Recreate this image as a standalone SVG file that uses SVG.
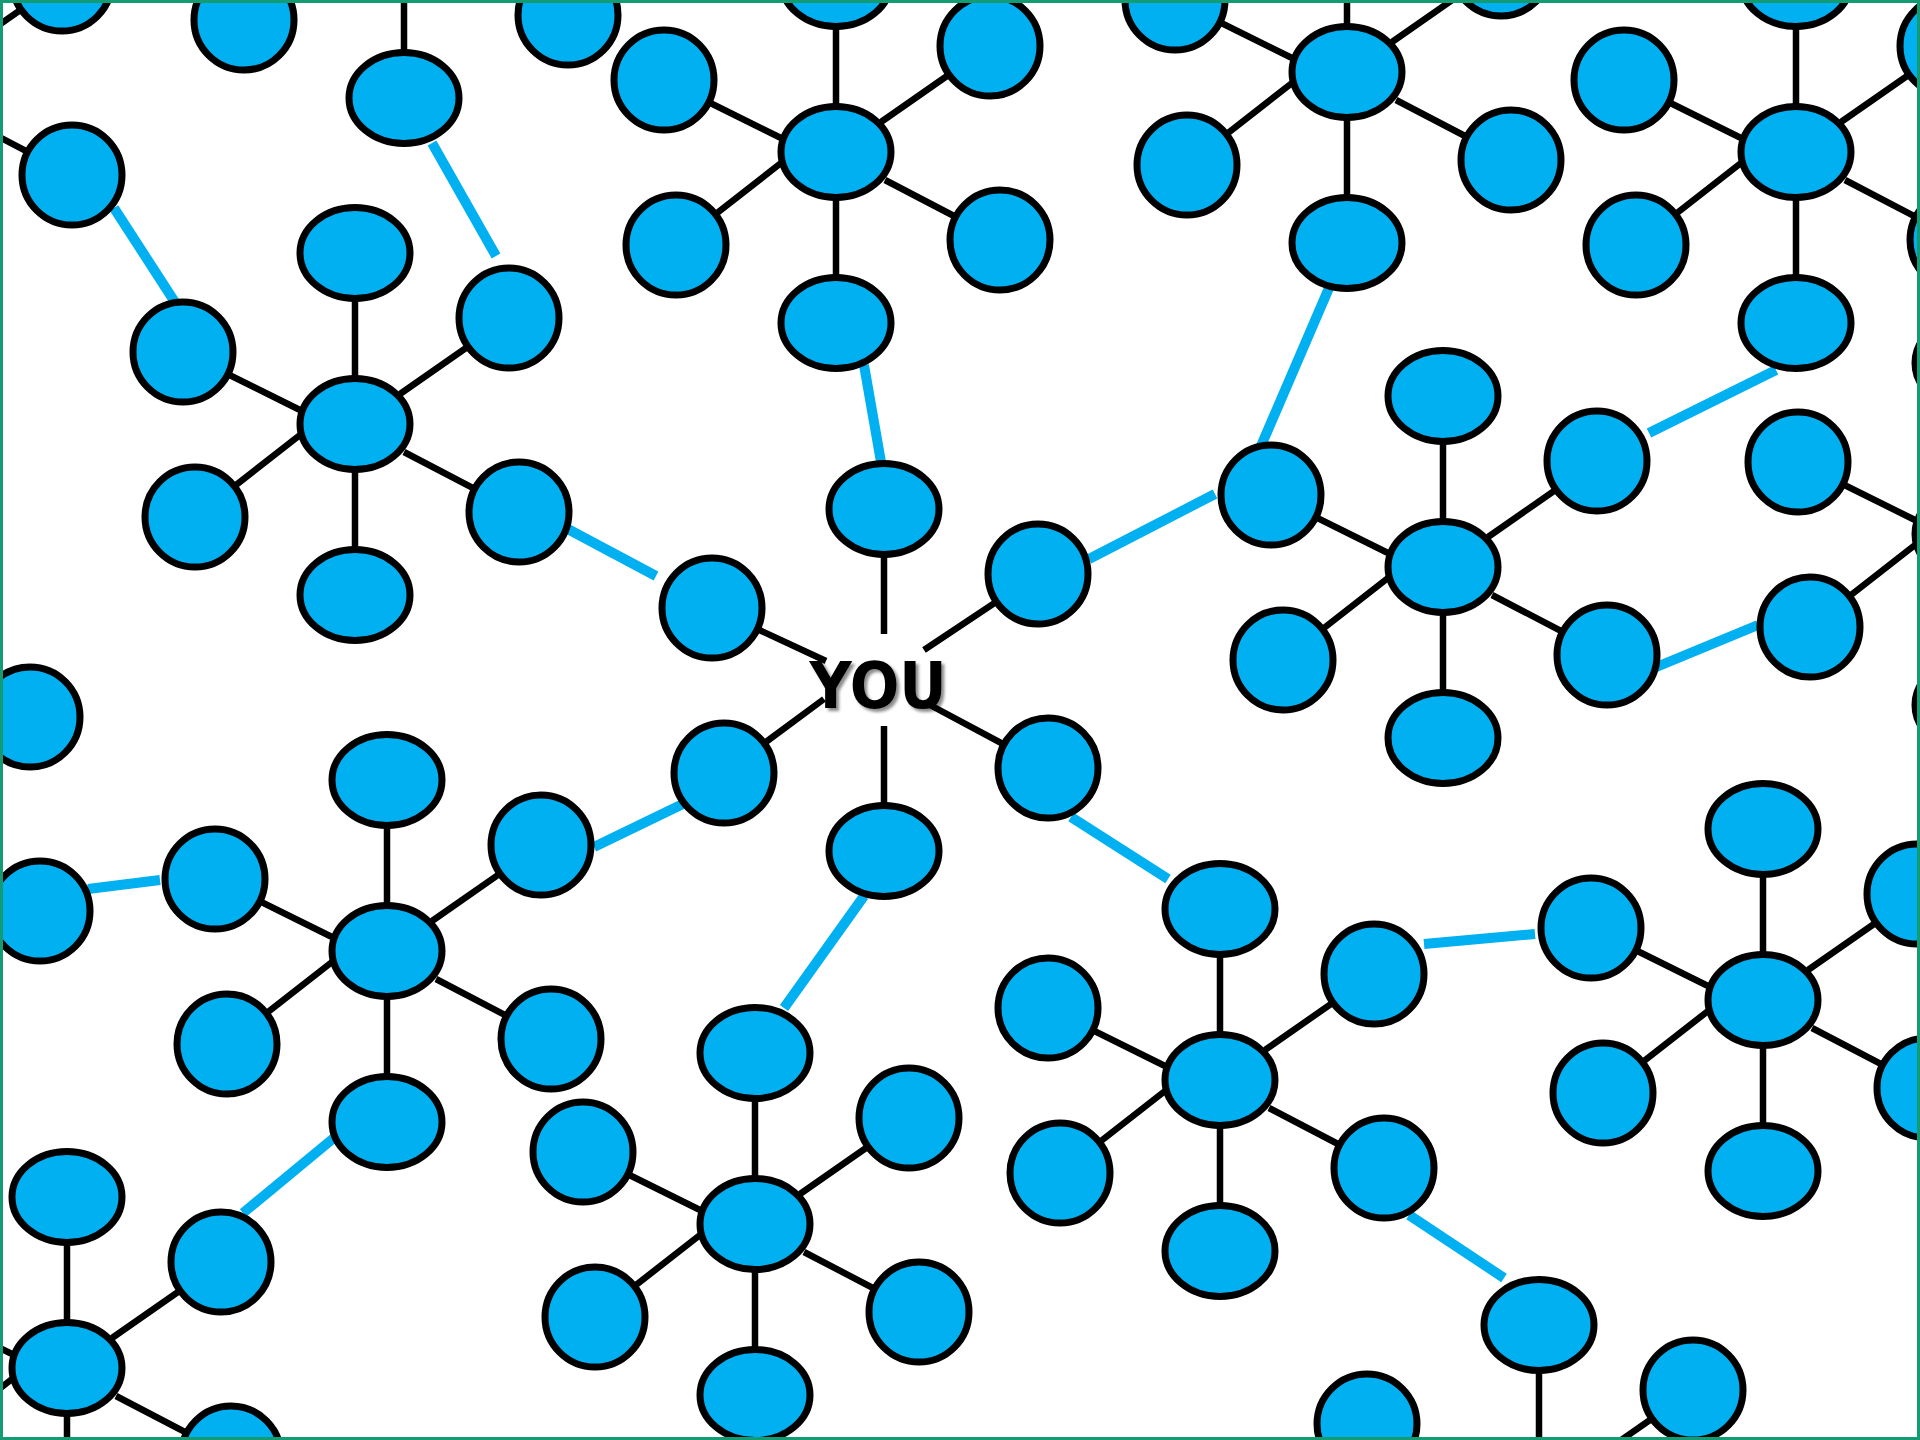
<svg xmlns="http://www.w3.org/2000/svg" xmlns:xlink="http://www.w3.org/1999/xlink" width="1920" height="1440" viewBox="0 0 1920 1440">
<style>
.n{fill:#00B0F0;stroke:#000;stroke-width:7}
.l{fill:none;stroke:#000;stroke-width:6.5}
.b{fill:none;stroke:#00B0F0;stroke-width:10}
.you{font-family:"DejaVu Sans","Liberation Sans",sans-serif;font-weight:bold;font-size:64px;fill:#000;text-anchor:middle}
</style>
<defs>
<ellipse id="e" class="n" rx="55" ry="45.5"/>
<circle id="c" class="n" r="50"/>
<filter id="sh" x="-20%" y="-30%" width="140%" height="160%">
<feDropShadow dx="3" dy="3" stdDeviation="1.5" flood-color="#000" flood-opacity="0.45"/>
</filter>
</defs>
<rect width="1920" height="1440" fill="#fff"/>
<g id="connectors">
<path class="l" d="M-47 57L62 -19M-43 115L72 175"/>
<path class="l" d="M404 -73L404 98M349 -62L244 20M453 -45L568 15"/>
<path class="l" d="M355 424L355 253M355 424L355 595M300 410L183 352M400 394L509 318M300 435L195 517M404 452L519 512"/>
<path class="l" d="M836 152L836 -19M836 152L836 323M781 138L664 80M881 122L990 46M781 163L676 245M885 180L1000 240"/>
<path class="l" d="M1347 72L1347 -99M1347 72L1347 243M1292 58L1175 0M1392 42L1501 -34M1292 83L1187 165M1396 100L1511 160"/>
<path class="l" d="M1796 152L1796 -19M1796 152L1796 323M1741 138L1624 80M1841 122L1950 46M1741 163L1636 245M1845 180L1960 240"/>
<path class="l" d="M1443 567L1443 396M1443 567L1443 738M1388 553L1271 495M1488 537L1597 461M1388 578L1283 660M1492 595L1607 655"/>
<path class="l" d="M1970 534L1970 363M1970 534L1970 705M1915 520L1798 462M1915 545L1810 627"/>
<path class="l" d="M884 634L884 509M884 726L884 851M826 661L712 608M924 650L1038 574M824 699L724 773M930 705L1048 768"/>
<path class="l" d="M387 951L387 780M387 951L387 1122M332 937L215 879M432 921L541 845M332 962L227 1044M436 979L551 1039"/>
<path class="l" d="M1220 1080L1220 909M1220 1080L1220 1251M1165 1066L1048 1008M1265 1050L1374 974M1165 1091L1060 1173M1269 1108L1384 1168"/>
<path class="l" d="M755 1224L755 1053M755 1224L755 1395M700 1210L583 1152M800 1194L909 1118M700 1235L595 1317M804 1252L919 1312"/>
<path class="l" d="M1763 1000L1763 829M1763 1000L1763 1171M1708 986L1591 928M1808 970L1917 894M1708 1011L1603 1093M1812 1028L1927 1088"/>
<path class="l" d="M67 1368L67 1197M67 1368L67 1539M12 1354L-105 1296M112 1338L221 1262M12 1379L-93 1461M116 1396L231 1456"/>
<path class="l" d="M1539 1496L1539 1325M1484 1482L1367 1424M1584 1466L1693 1390"/>
<path class="b" d="M114 208L175.5 303"/>
<path class="b" d="M432 143L496 256"/>
<path class="b" d="M564 527L656 576"/>
<path class="b" d="M864 365L881 462"/>
<path class="b" d="M1329 288L1261 446"/>
<path class="b" d="M1089 559L1215 494"/>
<path class="b" d="M1649 433L1776 370"/>
<path class="b" d="M1654 668L1758 625"/>
<path class="b" d="M594 847L687 802"/>
<path class="b" d="M88 889L160 880"/>
<path class="b" d="M1071 817L1168 879"/>
<path class="b" d="M864 896L784 1008"/>
<path class="b" d="M335 1137L243 1213"/>
<path class="b" d="M1424 944L1535 934"/>
<path class="b" d="M1409 1215L1504 1278"/>
</g>
<g id="K-UR"><use xlink:href="#c" x="62" y="-19"/></g>
<g id="K-LR"><use xlink:href="#c" x="72" y="175"/></g>
<g id="L-B"><use xlink:href="#e" x="404" y="98"/></g>
<g id="L-LL"><use xlink:href="#c" x="244" y="20"/></g>
<g id="L-LR"><use xlink:href="#c" x="568" y="15"/></g>
<g id="A"><use xlink:href="#e" x="355" y="424"/></g>
<g id="A-T"><use xlink:href="#e" x="355" y="253"/></g>
<g id="A-B"><use xlink:href="#e" x="355" y="595"/></g>
<g id="A-UL"><use xlink:href="#c" x="183" y="352"/></g>
<g id="A-UR"><use xlink:href="#c" x="509" y="318"/></g>
<g id="A-LL"><use xlink:href="#c" x="195" y="517"/></g>
<g id="A-LR"><use xlink:href="#c" x="519" y="512"/></g>
<g id="B"><use xlink:href="#e" x="836" y="152"/></g>
<g id="B-T"><use xlink:href="#e" x="836" y="-19"/></g>
<g id="B-B"><use xlink:href="#e" x="836" y="323"/></g>
<g id="B-UL"><use xlink:href="#c" x="664" y="80"/></g>
<g id="B-UR"><use xlink:href="#c" x="990" y="46"/></g>
<g id="B-LL"><use xlink:href="#c" x="676" y="245"/></g>
<g id="B-LR"><use xlink:href="#c" x="1000" y="240"/></g>
<g id="C"><use xlink:href="#e" x="1347" y="72"/></g>
<g id="C-B"><use xlink:href="#e" x="1347" y="243"/></g>
<g id="C-UL"><use xlink:href="#c" x="1175" y="0"/></g>
<g id="C-UR"><use xlink:href="#c" x="1501" y="-34"/></g>
<g id="C-LL"><use xlink:href="#c" x="1187" y="165"/></g>
<g id="C-LR"><use xlink:href="#c" x="1511" y="160"/></g>
<g id="D"><use xlink:href="#e" x="1796" y="152"/></g>
<g id="D-T"><use xlink:href="#e" x="1796" y="-19"/></g>
<g id="D-B"><use xlink:href="#e" x="1796" y="323"/></g>
<g id="D-UL"><use xlink:href="#c" x="1624" y="80"/></g>
<g id="D-UR"><use xlink:href="#c" x="1950" y="46"/></g>
<g id="D-LL"><use xlink:href="#c" x="1636" y="245"/></g>
<g id="D-LR"><use xlink:href="#c" x="1960" y="240"/></g>
<g id="E"><use xlink:href="#e" x="1443" y="567"/></g>
<g id="E-T"><use xlink:href="#e" x="1443" y="396"/></g>
<g id="E-B"><use xlink:href="#e" x="1443" y="738"/></g>
<g id="E-UL"><use xlink:href="#c" x="1271" y="495"/></g>
<g id="E-UR"><use xlink:href="#c" x="1597" y="461"/></g>
<g id="E-LL"><use xlink:href="#c" x="1283" y="660"/></g>
<g id="E-LR"><use xlink:href="#c" x="1607" y="655"/></g>
<g id="R"><use xlink:href="#e" x="1970" y="534"/></g>
<g id="R-T"><use xlink:href="#e" x="1970" y="363"/></g>
<g id="R-B"><use xlink:href="#e" x="1970" y="705"/></g>
<g id="R-UL"><use xlink:href="#c" x="1798" y="462"/></g>
<g id="R-LL"><use xlink:href="#c" x="1810" y="627"/></g>
<g id="YOU-T"><use xlink:href="#e" x="884" y="509"/></g>
<g id="YOU-B"><use xlink:href="#e" x="884" y="851"/></g>
<g id="YOU-UL"><use xlink:href="#c" x="712" y="608"/></g>
<g id="YOU-UR"><use xlink:href="#c" x="1038" y="574"/></g>
<g id="YOU-LL"><use xlink:href="#c" x="724" y="773"/></g>
<g id="YOU-LR"><use xlink:href="#c" x="1048" y="768"/></g>
<g id="M-UR"><use xlink:href="#c" x="30" y="717"/></g>
<g id="M-LR"><use xlink:href="#c" x="40" y="911"/></g>
<g id="F"><use xlink:href="#e" x="387" y="951"/></g>
<g id="F-T"><use xlink:href="#e" x="387" y="780"/></g>
<g id="F-B"><use xlink:href="#e" x="387" y="1122"/></g>
<g id="F-UL"><use xlink:href="#c" x="215" y="879"/></g>
<g id="F-UR"><use xlink:href="#c" x="541" y="845"/></g>
<g id="F-LL"><use xlink:href="#c" x="227" y="1044"/></g>
<g id="F-LR"><use xlink:href="#c" x="551" y="1039"/></g>
<g id="G"><use xlink:href="#e" x="1220" y="1080"/></g>
<g id="G-T"><use xlink:href="#e" x="1220" y="909"/></g>
<g id="G-B"><use xlink:href="#e" x="1220" y="1251"/></g>
<g id="G-UL"><use xlink:href="#c" x="1048" y="1008"/></g>
<g id="G-UR"><use xlink:href="#c" x="1374" y="974"/></g>
<g id="G-LL"><use xlink:href="#c" x="1060" y="1173"/></g>
<g id="G-LR"><use xlink:href="#c" x="1384" y="1168"/></g>
<g id="H"><use xlink:href="#e" x="755" y="1224"/></g>
<g id="H-T"><use xlink:href="#e" x="755" y="1053"/></g>
<g id="H-B"><use xlink:href="#e" x="755" y="1395"/></g>
<g id="H-UL"><use xlink:href="#c" x="583" y="1152"/></g>
<g id="H-UR"><use xlink:href="#c" x="909" y="1118"/></g>
<g id="H-LL"><use xlink:href="#c" x="595" y="1317"/></g>
<g id="H-LR"><use xlink:href="#c" x="919" y="1312"/></g>
<g id="I"><use xlink:href="#e" x="1763" y="1000"/></g>
<g id="I-T"><use xlink:href="#e" x="1763" y="829"/></g>
<g id="I-B"><use xlink:href="#e" x="1763" y="1171"/></g>
<g id="I-UL"><use xlink:href="#c" x="1591" y="928"/></g>
<g id="I-UR"><use xlink:href="#c" x="1917" y="894"/></g>
<g id="I-LL"><use xlink:href="#c" x="1603" y="1093"/></g>
<g id="I-LR"><use xlink:href="#c" x="1927" y="1088"/></g>
<g id="J"><use xlink:href="#e" x="67" y="1368"/></g>
<g id="J-T"><use xlink:href="#e" x="67" y="1197"/></g>
<g id="J-UR"><use xlink:href="#c" x="221" y="1262"/></g>
<g id="J-LR"><use xlink:href="#c" x="231" y="1456"/></g>
<g id="P-T"><use xlink:href="#e" x="1539" y="1325"/></g>
<g id="P-UL"><use xlink:href="#c" x="1367" y="1424"/></g>
<g id="P-UR"><use xlink:href="#c" x="1693" y="1390"/></g>
<g id="you"><text class="you" x="878" y="708" textLength="137" lengthAdjust="spacingAndGlyphs" filter="url(#sh)">YOU</text></g>
<rect x="1.5" y="1.5" width="1917" height="1437" fill="none" stroke="#139B74" stroke-width="3"/>
</svg>
